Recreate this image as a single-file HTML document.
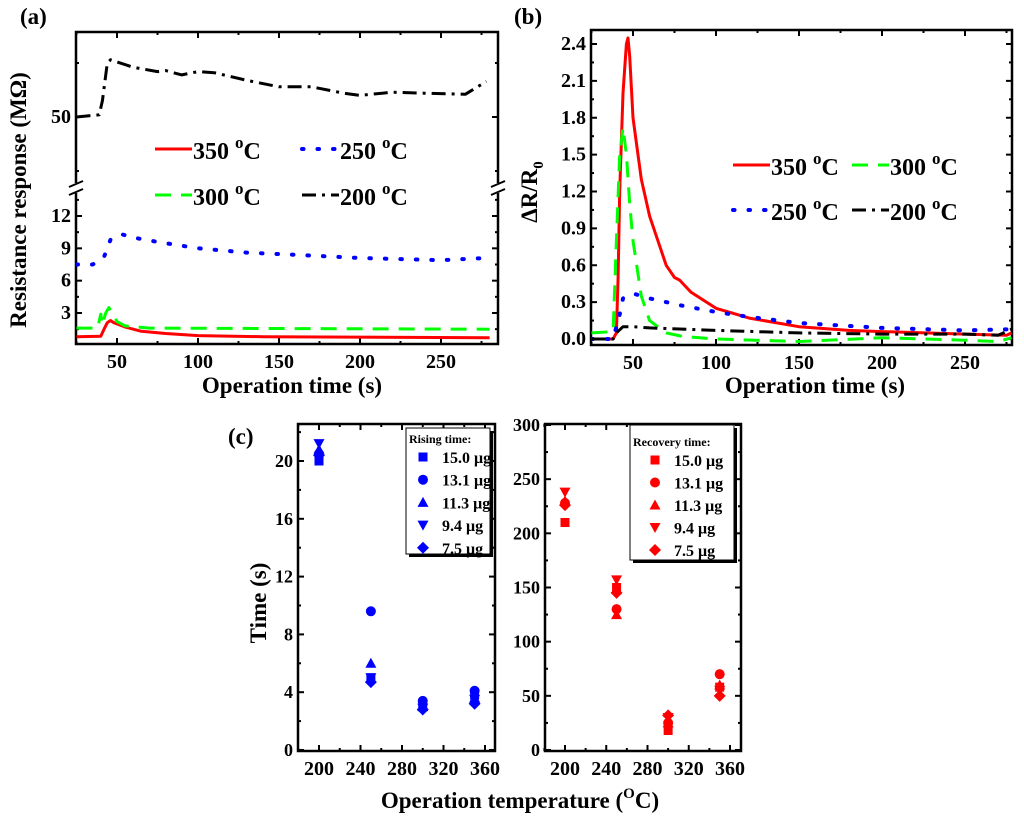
<!DOCTYPE html>
<html><head><meta charset="utf-8"><style>
html,body{margin:0;padding:0;background:#fff;}
svg{display:block;font-family:"Liberation Serif",serif;font-weight:bold;}
</style></head><body>
<svg id="fig" width="1024" height="822" viewBox="0 0 1024 822"></svg>
<script>
// ---- Panel (a) data ----
const aT350=[25,40,42,44,46,48,55,65,80,100,140,280];
const aV350=[0.8,0.85,1.5,2.1,2.3,2.1,1.7,1.3,1.1,0.9,0.8,0.7];
const aT300=[25,38,40,41,43,45,50,55,70,280];
const aV300=[1.6,1.6,2.9,1.9,3.0,3.5,2.2,1.8,1.6,1.5];
const aT250=[25,35,42,46,53,60,75,100,130,160,200,250,278];
const aV250=[7.5,7.5,8.2,9.8,10.3,10.0,9.6,9.0,8.6,8.4,8.1,7.9,8.1];
const aT200=[25,39,41,44,46,60,75,80,90,100,110,130,150,170,190,200,220,240,265,278];
const aV200=[50,50.2,51.5,55,55.3,54.6,54.2,54.3,53.9,54.2,54.1,53.4,52.8,52.8,52.2,52.0,52.3,52.2,52.1,53.3];
// ---- Panel (b) data ----
const bT350=[25,38,40,41,42,44,46,47,48,50,55,60,65,70,75,78,85,100,120,150,180,200,250,275,278];
const bV350=[0,0,0.05,0.5,1.2,2.0,2.4,2.45,2.3,1.8,1.3,1.0,0.8,0.6,0.5,0.48,0.38,0.25,0.17,0.1,0.07,0.06,0.04,0.03,0.05];
const bT300=[25,38,40,42,44,46,48,50,55,60,70,80,100,150,200,250,270,278];
const bV300=[0.05,0.06,0.8,1.5,1.72,1.5,1.1,0.8,0.35,0.15,0.05,0.02,0,-0.02,0.01,-0.01,-0.02,0.01];
const bT250=[25,38,40,42,44,50,60,80,100,120,150,200,250,278];
const bV250=[0,0,0.1,0.2,0.33,0.37,0.33,0.27,0.22,0.18,0.13,0.09,0.07,0.08];
const bT200=[25,38,40,44,50,60,100,150,200,250,270,278];
const bV200=[0,0,0.05,0.1,0.1,0.09,0.07,0.05,0.04,0.04,0.03,0.08];
// ---- Panel (c) data ----
const temps=[200,250,300,350];
const masses=["15.0 μg","13.1 μg","11.3 μg","9.4 μg","7.5 μg"];
const rise150=[20.0,5.0,3.0,3.8];
const rise131=[20.5,9.6,3.4,4.1];
const rise113=[20.8,6.0,3.0,3.6];
const rise94=[21.2,5.0,2.9,3.5];
const rise75=[20.4,4.7,2.8,3.2];
const rec150=[210,150,18,58];
const rec131=[228,130,25,70];
const rec113=[230,125,25,60];
const rec94=[238,157,30,55];
const rec75=[226,145,32,50];
const aXTicks=[50,100,150,200,250];
const aYTicks=[3,6,9,12];
const bXTicks=[50,100,150,200,250];
const bYTicks=[0.0,0.3,0.6,0.9,1.2,1.5,1.8,2.1,2.4];
const cXTicks=[200,240,280,320,360];
const cLYTicks=[0,4,8,12,16,20];
const cRYTicks=[0,50,100,150,200,250,300];

const NS="http://www.w3.org/2000/svg";
const svg=document.getElementById('fig');
function mk(tag,attrs,parent){const e=document.createElementNS(NS,tag);for(const k in attrs)e.setAttribute(k,attrs[k]);(parent||svg).appendChild(e);return e;}
function lin(d0,d1,p0,p1){return v=>p0+(v-d0)*(p1-p0)/(d1-d0);}

function box(x0,y0,x1,y1,name){
  const r=mk('rect',{x:x0,y:y0,width:x1-x0,height:y1-y0,fill:'none',stroke:'#000','stroke-width':2.5});
  
  
}
function xTicks(sx,vals,minor,y0,y1,labels,name){
  const g=mk('g',{});
  
  
  vals.forEach(v=>{const x=sx(v);
    mk('line',{x1:x,x2:x,y1:y1,y2:y1-6,stroke:'#000','stroke-width':2},g);
    mk('line',{x1:x,x2:x,y1:y0,y2:y0+6,stroke:'#000','stroke-width':2},g);
    if(labels){const t=mk('text',{x:x,y:y1+24,'text-anchor':'middle','font-size':20},g);t.textContent=v;}
  });
  minor.forEach(v=>{const x=sx(v);
    mk('line',{x1:x,x2:x,y1:y1,y2:y1-3,stroke:'#000','stroke-width':2},g);
    mk('line',{x1:x,x2:x,y1:y0,y2:y0+3,stroke:'#000','stroke-width':2},g);});
}
function yTicks(sy,vals,minor,x0,x1,fmt,name,fs){
  const g=mk('g',{});
  
  
  vals.forEach(v=>{const y=sy(v);
    mk('line',{x1:x0,x2:x0+6,y1:y,y2:y,stroke:'#000','stroke-width':2},g);
    mk('line',{x1:x1,x2:x1-6,y1:y,y2:y,stroke:'#000','stroke-width':2},g);
    const t=mk('text',{x:x0-5,y:y+6,'text-anchor':'end','font-size':fs||20},g);t.textContent=fmt(v);});
  minor.forEach(v=>{const y=sy(v);
    mk('line',{x1:x0,x2:x0+3,y1:y,y2:y,stroke:'#000','stroke-width':2},g);
    mk('line',{x1:x1,x2:x1-3,y1:y,y2:y,stroke:'#000','stroke-width':2},g);});
}
const DOTS='1.5 14', DASHES='16 10', DASH_DOT='14 6 3 6';
function styl(a,dash){
  if(dash)a['stroke-dasharray']=dash;
  if(dash===DOTS){a['stroke-linecap']='round';a['stroke-width']=4;}
}
function series(ts,vs,sx,sy,color,dash,name,clip){
  const d=ts.map((t,i)=>(i?'L':'M')+sx(t).toFixed(1)+','+sy(vs[i]).toFixed(1)).join(' ');
  const attrs={d:d,fill:'none',stroke:color,'stroke-width':3,'stroke-linejoin':'round'};
  styl(attrs,dash);
  if(clip)attrs['clip-path']='url(#'+clip+')';
  const p=mk('path',attrs);
  
  
}
function legEntry(x,y,color,dash,label,name){
  const g=mk('g',{});
  
  
  const a={x1:x,x2:x+37,y1:y,y2:y,stroke:color,'stroke-width':3};
  styl(a,dash);
  mk('line',a,g);
  const t=mk('text',{x:x+38,y:y+10,'font-size':24},g);
  t.innerHTML=label+' <tspan dy="-11" font-size="17">o</tspan><tspan dy="11">C</tspan>';
}
const defs=mk('defs',{});
const cpa=mk('clipPath',{id:'ca'},defs);mk('rect',{x:76,y:32,width:422,height:312},cpa);
const cpb=mk('clipPath',{id:'cb'},defs);mk('rect',{x:591,y:30,width:421,height:315},cpb);

// ===== Panel (a) =====
const axX=lin(50,250,117,441);
const ayLo=lin(3,12,313,216);
const ayHi=lin(50,55,117,63);
box(76,32,498,344,'panel-a-frame');
xTicks(axX,aXTicks,[25,75,125,175,225,275],32,344,true,'panel-a-x-ticks');
yTicks(ayLo,aYTicks,[1.5,4.5,7.5,10.5,13.5],76,498,v=>v,'panel-a-y-ticks-lower');
yTicks(ayHi,[50],[45,55],76,498,v=>v,'panel-a-y-ticks-upper');
[[76],[498]].forEach(([x],i)=>{const g=mk('g',{});
 mk('rect',{x:x-6,y:183,width:12,height:10,fill:'#fff'},g);
 mk('line',{x1:x-7,y1:187,x2:x+7,y2:181,stroke:'#000','stroke-width':2},g);
 mk('line',{x1:x-7,y1:195,x2:x+7,y2:189,stroke:'#000','stroke-width':2},g);});
series(aT350,aV350,axX,ayLo,'#f00',null,'series-a-350C','ca');
series(aT300,aV300,axX,ayLo,'#0f0',DASHES,'series-a-300C','ca');
series(aT250,aV250,axX,ayLo,'#00f',DOTS,'series-a-250C','ca');
series(aT200,aV200,axX,ayHi,'#000',DASH_DOT,'series-a-200C','ca');
legEntry(155,149,'#f00',null,'350','legend-a-350C');
legEntry(302,149,'#00f',DOTS,'250','legend-a-250C');
legEntry(155,195,'#0f0',DASHES,'300','legend-a-300C');
legEntry(302,195,'#000',DASH_DOT,'200','legend-a-200C');
let t=mk('text',{x:20,y:24,'font-size':23});t.textContent='(a)';

t=mk('text',{x:292,y:393,'text-anchor':'middle','font-size':23});t.textContent='Operation time (s)';

t=mk('text',{x:0,y:0,'text-anchor':'middle','font-size':23,transform:'translate(26,200) rotate(-90)'});t.textContent='Resistance response (MΩ)';


// ===== Panel (b) =====
const bxX=lin(50,250,633,965);
const byY=lin(0,2.4,339,44);
box(591,30,1012,345,'panel-b-frame');
xTicks(bxX,bXTicks,[25,75,125,175,225,275],30,345,true,'panel-b-x-ticks');
yTicks(byY,bYTicks,[0.15,0.45,0.75,1.05,1.35,1.65,1.95,2.25],591,1012,v=>v.toFixed(1),'panel-b-y-ticks');
series(bT350,bV350,bxX,byY,'#f00',null,'series-b-350C','cb');
series(bT300,bV300,bxX,byY,'#0f0',DASHES,'series-b-300C','cb');
series(bT250,bV250,bxX,byY,'#00f',DOTS,'series-b-250C','cb');
series(bT200,bV200,bxX,byY,'#000',DASH_DOT,'series-b-200C','cb');
legEntry(733,165,'#f00',null,'350','legend-b-350C');
legEntry(852,165,'#0f0',DASHES,'300','legend-b-300C');
legEntry(733,210,'#00f',DOTS,'250','legend-b-250C');
legEntry(852,210,'#000',DASH_DOT,'200','legend-b-200C');
t=mk('text',{x:514,y:24,'font-size':23});t.textContent='(b)';

t=mk('text',{x:815,y:393,'text-anchor':'middle','font-size':23});t.textContent='Operation time (s)';

t=mk('text',{x:0,y:0,'text-anchor':'middle','font-size':23,transform:'translate(537,192) rotate(-90)'});
t.innerHTML='ΔR/R<tspan dy="6" font-size="15">0</tspan>';


// ===== Panel (c) =====
function marker(shape,x,y,color,parent,name){
  let e;const s=4.5;
  if(shape==='sq')e=mk('rect',{x:x-s,y:y-s,width:2*s,height:2*s,fill:color},parent);
  else if(shape==='ci')e=mk('circle',{cx:x,cy:y,r:s+0.5,fill:color},parent);
  else if(shape==='up')e=mk('polygon',{points:`${x},${y-s-1} ${x+s+1},${y+s} ${x-s-1},${y+s}`,fill:color},parent);
  else if(shape==='dn')e=mk('polygon',{points:`${x},${y+s+1} ${x+s+1},${y-s} ${x-s-1},${y-s}`,fill:color},parent);
  else e=mk('polygon',{points:`${x},${y-s-1.5} ${x+s+1.5},${y} ${x},${y+s+1.5} ${x-s-1.5},${y}`,fill:color},parent);
  
  
}
const shapes=['sq','ci','up','dn','di'];
function scatterPanel(sx,sy,sets,color,prefix){
  sets.forEach((vals,si)=>{
    const g=mk('g',{});
    
    
    vals.forEach((v,i)=>marker(shapes[si],sx(temps[i]),sy(v),color,g,prefix+'-point'));
  });
}
function legendBox(x,y,w,h,title,color,name,tx,first,gap,tfs){
  const g=mk('g',{});
  
  
  mk('rect',{x:x+3,y:y+3,width:w,height:h,fill:'#000'},g);
  mk('rect',{x:x,y:y,width:w,height:h,fill:'#fff',stroke:'#000','stroke-width':1},g);
  let tt=mk('text',{x:x+3,y:y+first-14,'font-size':tfs},g);tt.textContent=title;
  masses.forEach((m,i)=>{const yy=y+first+i*gap;marker(shapes[i],x+tx,yy,color,g,'legend-marker');
    const l=mk('text',{x:x+tx+19,y:yy+6,'font-size':16},g);l.textContent=m;});
}
const cLx=lin(200,360,319,485), cLy=lin(0,20,750,461);
box(298,424,495,751,'panel-c-left-frame');
xTicks(cLx,cXTicks,[180,220,260,300,340],424,751,true,'panel-c-left-x-ticks');
yTicks(cLy,cLYTicks,[2,6,10,14,18,22],298,495,v=>v,'panel-c-left-y-ticks',18);
scatterPanel(cLx,cLy,[rise150,rise131,rise113,rise94,rise75],'#00f','rising');
legendBox(406,428,84,126,'Rising time:','#00f','legend-rising-time',17,29,22.7,12);
const cRx=lin(200,360,565,730), cRy=lin(0,300,750,425);
box(545,424,741,751,'panel-c-right-frame');
xTicks(cRx,cXTicks,[180,220,260,300,340],424,751,true,'panel-c-right-x-ticks');
yTicks(cRy,cRYTicks,[25,75,125,175,225,275],545,741,v=>v,'panel-c-right-y-ticks',18);
scatterPanel(cRx,cRy,[rec150,rec131,rec113,rec94,rec75],'#f00','recovery');
legendBox(630,425,104,135,'Recovery time:','#f00','legend-recovery-time',25,35,22.5,12);
t=mk('text',{x:228,y:444,'font-size':23});t.textContent='(c)';

t=mk('text',{x:0,y:0,'text-anchor':'middle','font-size':23,transform:'translate(266,603) rotate(-90)'});t.textContent='Time (s)';

t=mk('text',{x:520,y:808,'text-anchor':'middle','font-size':23});
t.innerHTML='Operation temperature (<tspan dy="-10" font-size="15">O</tspan><tspan dy="10">C)</tspan>';

</script>
</body></html>
